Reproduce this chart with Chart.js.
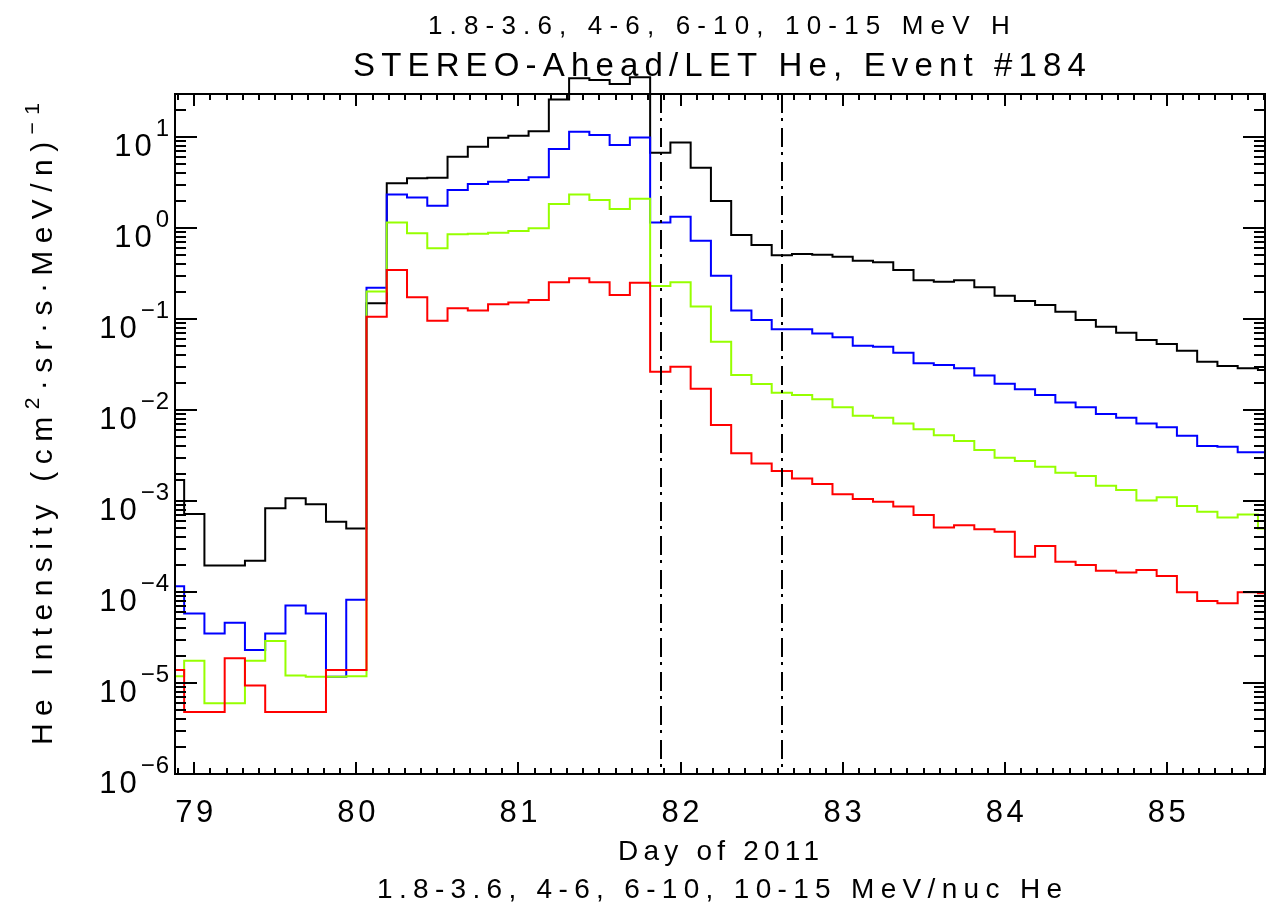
<!DOCTYPE html>
<html>
<head>
<meta charset="utf-8">
<script src="https://cdn.jsdelivr.net/npm/chart.js@4.4.1/dist/chart.umd.min.js"></script>
<style>
  html, body { margin: 0; padding: 0; background: #fff; }
  #wrap { width: 1267px; height: 909px; }
</style>
</head>
<body>
<div id="wrap"><canvas id="heflux" width="1267" height="909"></canvas></div>
<script>
// 3-hour bin centres, day of 2011
const days = [
  78.875, 79, 79.125, 79.25, 79.375, 79.5, 79.625, 79.75, 79.875, 80,
  80.125, 80.25, 80.375, 80.5, 80.625, 80.75, 80.875, 81, 81.125, 81.25,
  81.375, 81.5, 81.625, 81.75, 81.875, 82, 82.125, 82.25, 82.375, 82.5,
  82.625, 82.75, 82.875, 83, 83.125, 83.25, 83.375, 83.5, 83.625, 83.75,
  83.875, 84, 84.125, 84.25, 84.375, 84.5, 84.625, 84.75, 84.875, 85,
  85.125, 85.25, 85.375, 85.5, 85.625
];

// He intensity, (cm2 sr s MeV/n)^-1
const he1836 = [
  1.7e-3, 7.2e-4, 1.95e-4, 1.95e-4, 2.2e-4, 8.3e-4, 1.07e-3, 9.2e-4, 5.9e-4, 5.0e-4,
  0.149, 3.10, 3.52, 3.57, 6.08, 7.82, 9.82, 10.3, 11.6, 25.9,
  44.2, 42.3, 38.2, 45.3, 6.73, 8.73, 4.60, 1.98, 0.838, 0.650,
  0.501, 0.518, 0.509, 0.484, 0.438, 0.420, 0.345, 0.266, 0.257, 0.266,
  0.223, 0.180, 0.158, 0.143, 0.120, 0.0975, 0.0824, 0.0708, 0.0587, 0.0531,
  0.0449, 0.0340, 0.0305, 0.0287, 0.0275
];
const he46 = [
  1.16e-4, 5.8e-5, 3.5e-5, 4.6e-5, 2.3e-5, 3.5e-5, 7.1e-5, 5.8e-5, 1.17e-5, 8.2e-5,
  0.221, 2.34, 2.17, 1.76, 2.62, 3.05, 3.23, 3.37, 3.61, 7.38,
  11.4, 10.5, 8.17, 9.91, 1.15, 1.33, 0.726, 0.299, 0.124, 0.0975,
  0.0773, 0.0773, 0.0695, 0.0630, 0.0509, 0.0497, 0.0427, 0.0326, 0.0313, 0.0287,
  0.0240, 0.0194, 0.0169, 0.0146, 0.0121, 0.0107, 0.00904, 0.00824, 0.00713, 0.00646,
  0.00522, 0.00402, 0.00395, 0.00343, 0.00343
];
const he610 = [
  1.19e-5, 1.76e-5, 6.0e-6, 6.0e-6, 1.76e-5, 2.9e-5, 1.21e-5, 1.17e-5, 1.17e-5, 1.19e-5,
  0.200, 1.15, 0.875, 0.598, 0.853, 0.867, 0.889, 0.927, 0.991, 1.84,
  2.34, 2.03, 1.62, 2.10, 0.231, 0.253, 0.137, 0.0564, 0.0243, 0.0193,
  0.0155, 0.0146, 0.0131, 0.0107, 0.00867, 0.00824, 0.00713, 0.00614, 0.00527, 0.00456,
  0.00363, 0.00299, 0.00275, 0.00238, 0.00205, 0.00188, 0.00147, 0.00132, 0.00101, 0.00110,
  0.00088, 0.00076, 0.00066, 0.00071, 0.00050
];
const he1015 = [
  1.39e-5, 4.8e-6, 4.8e-6, 1.87e-5, 9.4e-6, 4.8e-6, 4.8e-6, 4.8e-6, 1.39e-5, 1.39e-5,
  0.106, 0.345, 0.173, 0.0959, 0.131, 0.124, 0.145, 0.152, 0.162, 0.253,
  0.280, 0.253, 0.184, 0.251, 0.0264, 0.0299, 0.0171, 0.00684, 0.00334, 0.00259,
  0.00214, 0.00177, 0.00154, 0.00119, 0.00105, 0.00098, 0.00087, 0.00070, 0.00051, 0.00054,
  0.00049, 0.00046, 0.000244, 0.000320, 0.000215, 0.000198, 0.000171, 0.000164, 0.000175, 0.000150,
  0.0000993, 0.0000796, 0.0000750, 0.0000993, 0.0000966
];

// dash-dot markers (day of 2011)
const eventLines = [81.878, 82.626];

const xLabelDays = [79, 80, 81, 82, 83, 84, 85];
const yExponents = [-6, -5, -4, -3, -2, -1, 0, 1];

const FONT = '"Liberation Sans Narrow", "Liberation Sans", "DejaVu Sans", sans-serif';

function pts(vals) {
  return days.map((d, i) => ({ x: d, y: vals[i] }));
}

// draw text stretched to a given width with letter spacing (IDL-like look)
function spacedText(ctx, text, left, base, width, size) {
  ctx.font = size + 'px ' + FONT;
  ctx.letterSpacing = '0px';
  const w0 = ctx.measureText(text).width;
  const gap = text.length > 1 ? (width - w0) / (text.length - 1) : 0;
  ctx.letterSpacing = gap.toFixed(2) + 'px';
  ctx.textAlign = 'left';
  ctx.textBaseline = 'alphabetic';
  ctx.fillText(text, left, base);
  ctx.letterSpacing = '0px';
}

function yTitle(ctx) {
  const segs = [
    { t: 'He Intensity (cm', s: 30, rise: 0 },
    { t: '2', s: 21, rise: 13 },
    { t: '\u00b7sr\u00b7s\u00b7MeV/n)', s: 30, rise: 0 },
    { t: '\u22121', s: 21, rise: 13 }
  ];
  ctx.save();
  ctx.translate(52, 745);
  ctx.rotate(-Math.PI / 2);
  ctx.letterSpacing = '0px';
  let nat = 0, n = 0;
  segs.forEach(g => {
    ctx.font = g.s + 'px ' + FONT;
    g.w = ctx.measureText(g.t).width;
    nat += g.w;
    n += g.t.length;
  });
  const gap = (642 - nat) / (n - 1);
  let xx = 0;
  ctx.textAlign = 'left';
  ctx.textBaseline = 'alphabetic';
  segs.forEach(g => {
    ctx.font = g.s + 'px ' + FONT;
    ctx.letterSpacing = gap.toFixed(2) + 'px';
    ctx.fillText(g.t, xx, -g.rise);
    xx += g.w + gap * g.t.length;
  });
  ctx.letterSpacing = '0px';
  ctx.restore();
}

const idlAxes = {
  id: 'idlAxes',
  afterDraw(chart) {
    const { ctx, chartArea: a } = chart;
    const x = chart.scales.x, y = chart.scales.y;
    ctx.save();
    ctx.strokeStyle = '#000';
    ctx.fillStyle = '#000';
    ctx.lineWidth = 2;

    // dash-dot lines
    ctx.setLineDash([19, 5, 3, 7]);
    eventLines.forEach(d => {
      const px = Math.round(x.getPixelForValue(d));
      ctx.beginPath();
      ctx.moveTo(px, a.top);
      ctx.lineTo(px, a.bottom);
      ctx.stroke();
    });
    ctx.setLineDash([]);

    // tick marks, inward on all four sides
    ctx.beginPath();
    for (let i = Math.ceil(x.min * 10); i <= Math.floor(x.max * 10); i++) {
      const px = Math.round(x.getPixelForValue(i / 10));
      const len = i % 10 === 0 ? 12 : 6;
      ctx.moveTo(px, a.bottom); ctx.lineTo(px, a.bottom - len);
      ctx.moveTo(px, a.top); ctx.lineTo(px, a.top + len);
    }
    for (let e = -6; e <= 1; e++) {
      for (let m = 1; m <= 9; m++) {
        const v = m * Math.pow(10, e);
        if (v < y.min || v > y.max) continue;
        const py = Math.round(y.getPixelForValue(v));
        const len = m === 1 ? 22 : 11;
        ctx.moveTo(a.left, py); ctx.lineTo(a.left + len, py);
        ctx.moveTo(a.right, py); ctx.lineTo(a.right - len, py);
      }
    }
    ctx.stroke();
    ctx.strokeRect(a.left, a.top, a.right - a.left, a.bottom - a.top);

    // x tick labels
    xLabelDays.forEach(d => {
      const px = x.getPixelForValue(d);
      spacedText(ctx, String(d), px - 19, 822, 38, 31);
    });

    // y tick labels: 10 with superscript exponent
    ctx.textBaseline = 'alphabetic';
    yExponents.forEach(e => {
      const py = y.getPixelForValue(Math.pow(10, e));
      const ex = e < 0 ? '\u2212' + Math.abs(e) : String(e);
      ctx.font = '24px ' + FONT;
      ctx.textAlign = 'right';
      ctx.letterSpacing = '1px';
      ctx.fillText(ex, 170, py - 1);
      const ew = ctx.measureText(ex).width;
      ctx.font = '31px ' + FONT;
      ctx.letterSpacing = '3px';
      ctx.fillText('10', 170 - ew - 1, py + 19);
      ctx.letterSpacing = '0px';
    });

    // titles
    spacedText(ctx, '1.8-3.6, 4-6, 6-10, 10-15 MeV H', 428, 34, 582, 26);
    spacedText(ctx, 'STEREO-Ahead/LET He, Event #184', 353, 76, 733, 33);
    spacedText(ctx, 'Day of 2011', 618, 860, 201, 28);
    spacedText(ctx, '1.8-3.6, 4-6, 6-10, 10-15 MeV/nuc He', 377, 898, 685, 28);
    yTitle(ctx);
    ctx.restore();
  }
};

const lineBase = {
  borderWidth: 2,
  pointRadius: 0,
  stepped: 'middle',
  fill: false,
  clip: { left: 0, top: false, right: 0, bottom: 0 }
};

new Chart(document.getElementById('heflux').getContext('2d'), {
  type: 'line',
  data: {
    datasets: [
      Object.assign({ label: '1.8-3.6 MeV/nuc', data: pts(he1836), borderColor: '#000000', order: 4 }, lineBase),
      Object.assign({ label: '4-6 MeV/nuc', data: pts(he46), borderColor: '#0000ff', order: 3 }, lineBase),
      Object.assign({ label: '6-10 MeV/nuc', data: pts(he610), borderColor: '#96ff00', order: 2 }, lineBase),
      Object.assign({ label: '10-15 MeV/nuc', data: pts(he1015), borderColor: '#ff0000', order: 1 }, lineBase)
    ]
  },
  options: {
    responsive: false,
    animation: false,
    devicePixelRatio: 1,
    layout: { padding: { top: 94, right: 2, left: 0, bottom: 0 } },
    plugins: { legend: { display: false }, tooltip: { enabled: false } },
    scales: {
      x: {
        type: 'linear',
        min: 78.881,
        max: 85.606,
        grid: { display: false, drawTicks: false },
        border: { display: false },
        ticks: { display: false },
        afterFit: s => { s.height = 135; }
      },
      y: {
        type: 'logarithmic',
        min: 1e-6,
        max: 29.7,
        grid: { display: false, drawTicks: false },
        border: { display: false },
        ticks: { display: false },
        afterFit: s => { s.width = 175; }
      }
    }
  },
  plugins: [idlAxes]
});
</script>
</body>
</html>
